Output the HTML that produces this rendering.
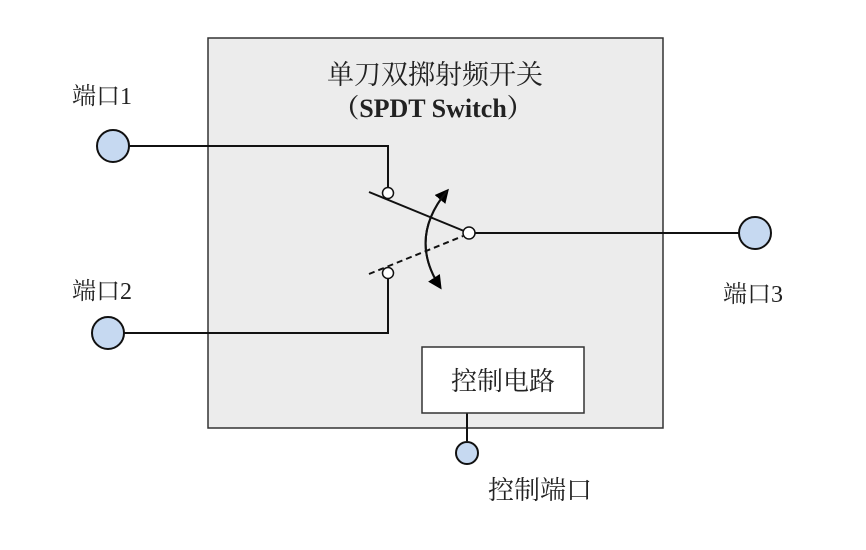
<!DOCTYPE html>
<html><head><meta charset="utf-8"><style>
body{margin:0;background:#fff;width:866px;height:545px;overflow:hidden}
text{font-family:"Liberation Serif","Noto Serif CJK SC",serif;fill:#222}
</style></head><body>
<svg width="866" height="545" viewBox="0 0 866 545" xmlns="http://www.w3.org/2000/svg">
<defs><marker id="a" markerWidth="14" markerHeight="14" refX="11" refY="7" orient="auto" markerUnits="userSpaceOnUse"><path d="M0,0 L14,7 L0,14 z" fill="#000"/></marker></defs>
<rect x="208" y="38" width="455" height="390" fill="#ececec" stroke="#333" stroke-width="1.5"/>
<text x="435" y="84" font-size="27" text-anchor="middle">单刀双掷射频开关</text>
<text x="433" y="117" font-size="26" font-weight="bold" text-anchor="middle">（SPDT Switch）</text>
<g stroke="#111" stroke-width="2" fill="none">
<polyline points="128,146 388,146 388,187"/>
<polyline points="124,333 388,333 388,279"/>
<line x1="369" y1="192" x2="464" y2="231"/>
<line x1="369" y1="274" x2="463" y2="236" stroke-dasharray="6,4"/>
<line x1="475" y1="233" x2="739" y2="233"/>
<path d="M440,287 Q408,238 447,191" marker-end="url(#a)"/>
<path d="M447,191 Q408,238 440,287" marker-end="url(#a)"/>
<line x1="467" y1="413" x2="467" y2="441"/>
</g>
<g stroke="#111" stroke-width="1.5" fill="#fff">
<circle cx="388" cy="193" r="5.5"/>
<circle cx="388" cy="273" r="5.5"/>
<circle cx="469" cy="233" r="6"/>
</g>
<g stroke="#111" stroke-width="2" fill="#c6d9f1">
<circle cx="113" cy="146" r="16"/>
<circle cx="108" cy="333" r="16"/>
<circle cx="755" cy="233" r="16"/>
<circle cx="467" cy="453" r="11"/>
</g>
<rect x="422" y="347" width="162" height="66" fill="#fff" stroke="#333" stroke-width="1.5"/>
<text x="503" y="390" font-size="26" text-anchor="middle">控制电路</text>
<text x="72" y="104" font-size="24">端口1</text>
<text x="72" y="299" font-size="24">端口2</text>
<text x="723" y="302" font-size="24">端口3</text>
<text x="488" y="499" font-size="26">控制端口</text>
</svg>
</body></html>
